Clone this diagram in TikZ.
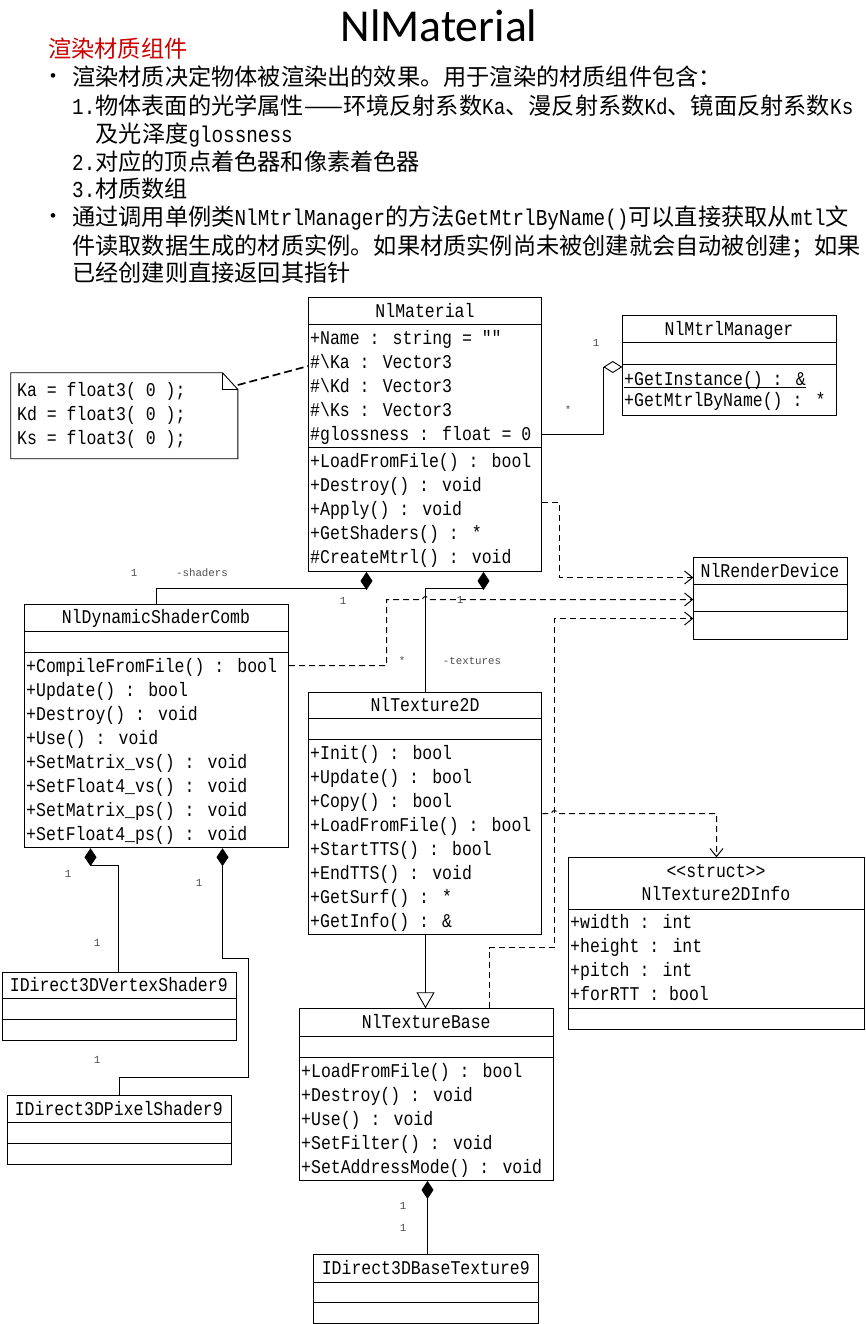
\documentclass[tikz,border=0pt]{standalone}
\usepackage{fontspec}
\setmainfont{Liberation Serif}
\newfontfamily\cjk{Noto Sans CJK SC}
\newfontfamily\mono{Liberation Mono}
\newfontfamily\titlef{Carlito}
\newfontfamily\bulf{Liberation Sans}
\usetikzlibrary{arrows.meta}
\definecolor{hred}{RGB}{204,0,0}
\newcommand\hw[1]{\scalebox{1}[1.18]{\mono\fontsize{19.3}{20}\selectfont #1}}
\newcommand\tall[1]{\scalebox{1}[1.18]{#1}}
\tikzset{
  lw/.style={line width=0.9pt},
  box/.style={draw, lw, inner sep=0pt, anchor=north west},
  mtxt/.style={font=\mono\fontsize{16.5}{18}\selectfont, inner sep=0pt, text height=12.8pt, text depth=0pt, anchor=west},
  ctxt/.style={font=\mono\fontsize{16.5}{18}\selectfont, inner sep=0pt, text height=12.8pt, text depth=0pt, anchor=center},
  ltxt/.style={font=\mono\fontsize{10.8}{12}\selectfont, text=black!70, inner sep=0pt, anchor=center},
  btxt/.style={font=\cjk\fontsize{23.2}{26}\selectfont, inner sep=0pt, text height=17.6pt, text depth=0pt, anchor=west},
  bul/.style={font=\bulf\fontsize{17}{20}\selectfont, inner sep=0pt, anchor=center},
  dsh/.style={line width=1pt, dash pattern=on 6pt off 4pt},
  notedsh/.style={line width=1.7pt, dash pattern=on 8pt off 4pt},
  dep/.style={dsh, -{Straight Barb[length=8pt,width=13pt]}},
  comp/.style={lw, {Diamond[length=18pt,width=12pt]}-},
  aggr/.style={lw, {Diamond[open,length=19pt,width=12pt]}-},
  gen/.style={lw, -{Triangle[open,length=16pt,width=18pt]}}
}
% name, x1, y1, x2, y2, sep1, sep2
\newcommand\umlclass[7]{%
  \node[box, minimum width={#4pt-#2pt}, minimum height={#5pt-#3pt}] (#1) at (#2,#3) {};
  \draw[lw] (#2,#6) -- (#4,#6);
  \draw[lw] (#2,#7) -- (#4,#7);
}
% row text: name, x, y, text
\newcommand\mrow[4]{\node[mtxt] (#1) at (#2,#3) {\tall{#4}};}
\newcommand\crow[4]{\node[ctxt] (#1) at (#2,#3) {\tall{#4}};}
\begin{document}
\begin{tikzpicture}[x=1pt,y=-1pt]
\useasboundingbox (0,0) rectangle (866,1324);

% ---------- header text ----------
\node[font=\titlef\fontsize{45.7}{48}\selectfont, inner sep=0pt, anchor=base] (ttl) at (439,42) {NlMaterial};
\node[btxt, text=hred] (h) at (48,49) {渲染材质组件};
\node[bul] (b1) at (53,78) {•};
\node[bul] (b2) at (53,218) {•};
\node[btxt] (t1) at (72,77) {渲染材质决定物体被渲染出的效果。用于渲染的材质组件包含：};
\node[btxt] (t2) at (72,106) {\hw{1.}物体表面的光学属性——环境反射系数\hw{Ka}、漫反射系数\hw{Kd}、镜面反射系数\hw{Ks}};
\node[btxt] (t3) at (95.5,134) {及光泽度\hw{glossness}};
\node[btxt] (t4) at (72,162) {\hw{2.}对应的顶点着色器和像素着色器};
\node[btxt] (t5) at (72,189) {\hw{3.}材质数组};
\node[btxt] (t6) at (72,217) {通过调用单例类\hw{NlMtrlManager}的方法\hw{GetMtrlByName()}可以直接获取从\hw{mtl}文};
\node[btxt] (t7) at (72,246) {件读取数据生成的材质实例。如果材质实例尚未被创建就会自动被创建；如果};
\node[btxt] (t8) at (72,273) {已经创建则直接返回其指针};

% ---------- NlMaterial ----------
\umlclass{mat}{308.4}{297.3}{541.4}{571}{324}{447.3}
\crow{matT}{425}{311}{NlMaterial}
\mrow{ma1}{310}{337.7}{+Name : string = ""}
\mrow{ma2}{310}{361.7}{\#\textbackslash Ka : Vector3}
\mrow{ma3}{310}{385.7}{\#\textbackslash Kd : Vector3}
\mrow{ma4}{310}{409.7}{\#\textbackslash Ks : Vector3}
\mrow{ma5}{310}{433.7}{\#glossness : float = 0}
\mrow{mm1}{310}{461}{+LoadFromFile() : bool}
\mrow{mm2}{310}{485}{+Destroy() : void}
\mrow{mm3}{310}{509}{+Apply() : void}
\mrow{mm4}{310}{533}{+GetShaders() : *}
\mrow{mm5}{310}{557}{\#CreateMtrl() : void}

% ---------- note ----------
\node[inner sep=0pt, minimum width=226.7pt, minimum height=85.6pt, anchor=north west] (note) at (10.7,372.7) {};
\draw[lw] (note.north west) -- (222.4,0 |- note.north) -- (note.east |- 0,389.3) -- (note.south east) -- (note.south west) -- cycle;
\draw[lw] (222.4,0 |- note.north) -- (222.4,389.3) -- (note.east |- 0,389.3);
\mrow{n1}{17}{390}{Ka = float3( 0 );}
\mrow{n2}{17}{414}{Kd = float3( 0 );}
\mrow{n3}{17}{438}{Ks = float3( 0 );}
\draw[notedsh] (note.east |- 0,385) -- (mat.west |- 0,366);

% ---------- NlMtrlManager ----------
\umlclass{mgr}{622.3}{315}{835.7}{415.3}{342.3}{364.3}
\crow{mgrT}{729}{329}{NlMtrlManager}
\mrow{g1}{624}{378.7}{+GetInstance() : \&}
\draw[line width=0.8pt] ([yshift=-1.8pt]g1.south west) -- ([yshift=-1.8pt]g1.south east);
\mrow{g2}{624}{400}{+GetMtrlByName() : *}

% ---------- NlRenderDevice ----------
\umlclass{rdev}{693.3}{556.7}{846.7}{639.3}{584.3}{611.7}
\crow{rdevT}{770}{571}{NlRenderDevice}

% ---------- NlDynamicShaderComb ----------
\umlclass{dsc}{24.3}{604.3}{288.1}{847.3}{631}{652.3}
\crow{dscT}{156}{617.5}{NlDynamicShaderComb}
\mrow{d1}{26}{666}{+CompileFromFile() : bool}
\mrow{d2}{26}{690}{+Update() : bool}
\mrow{d3}{26}{714}{+Destroy() : void}
\mrow{d4}{26}{738}{+Use() : void}
\mrow{d5}{26}{762}{+SetMatrix\_vs() : void}
\mrow{d6}{26}{786}{+SetFloat4\_vs() : void}
\mrow{d7}{26}{810}{+SetMatrix\_ps() : void}
\mrow{d8}{26}{834}{+SetFloat4\_ps() : void}

% ---------- NlTexture2D ----------
\umlclass{tex}{308.4}{691.7}{541.4}{934.3}{718.3}{739.3}
\crow{texT}{425}{705}{NlTexture2D}
\mrow{x1}{310}{752.7}{+Init() : bool}
\mrow{x2}{310}{776.7}{+Update() : bool}
\mrow{x3}{310}{800.7}{+Copy() : bool}
\mrow{x4}{310}{824.7}{+LoadFromFile() : bool}
\mrow{x5}{310}{848.7}{+StartTTS() : bool}
\mrow{x6}{310}{872.7}{+EndTTS() : void}
\mrow{x7}{310}{896.7}{+GetSurf() : *}
\mrow{x8}{310}{920.7}{+GetInfo() : \&}

% ---------- NlTexture2DInfo ----------
\umlclass{info}{568.2}{857.3}{864.4}{1029}{909.3}{1008.3}
\crow{infoS}{716}{871}{\textless\textless struct\textgreater\textgreater}
\crow{infoT}{716}{894.5}{NlTexture2DInfo}
\mrow{i1}{570}{922.3}{+width : int}
\mrow{i2}{570}{946.3}{+height : int}
\mrow{i3}{570}{970.3}{+pitch : int}
\mrow{i4}{570}{994.3}{+forRTT : bool}

% ---------- NlTextureBase ----------
\umlclass{tbase}{299.3}{1008.3}{553.3}{1180}{1036}{1057.7}
\crow{tbaseT}{426.3}{1022.3}{NlTextureBase}
\mrow{tb1}{301}{1071}{+LoadFromFile() : bool}
\mrow{tb2}{301}{1095}{+Destroy() : void}
\mrow{tb3}{301}{1119}{+Use() : void}
\mrow{tb4}{301}{1143}{+SetFilter() : void}
\mrow{tb5}{301}{1167}{+SetAddressMode() : void}

% ---------- D3D classes ----------
\umlclass{btex}{313.3}{1254.3}{538.3}{1323.3}{1282}{1302.3}
\crow{btexT}{425.8}{1268.3}{IDirect3DBaseTexture9}
\umlclass{vs}{1.7}{971.7}{236}{1040}{998.3}{1019.3}
\crow{vsT}{118.8}{985}{IDirect3DVertexShader9}
\umlclass{ps}{6.7}{1095}{231}{1164}{1122.7}{1143.3}
\crow{psT}{118.8}{1109.3}{IDirect3DPixelShader9}

% ---------- connectors ----------
\draw[aggr] (mgr.west |- 0,367) -- (603.5,367) -- (603.5,434.5) -- (mat.east |- 0,434.5);
\draw[comp] (366.5,0 |- mat.south) -- (366.5,588.5) -- (156.5,588.5) -- (156.5,0 |- dsc.north);
\draw[comp] (483.5,0 |- mat.south) -- (483.5,588.5) -- (425.5,588.5) -- (425.5,0 |- tex.north);
\draw[gen] (425.5,0 |- tex.south) -- (425.5,0 |- tbase.north);
\draw[comp] (90.5,0 |- dsc.south) -- (90.5,865.5) -- (118.5,865.5) -- (118.5,0 |- vs.north);
\draw[comp] (222.5,0 |- dsc.south) -- (222.5,958.5) -- (248.5,958.5) -- (248.5,1077.5) -- (119.5,1077.5) -- (119.5,0 |- ps.north);
\draw[comp] (427.5,0 |- tbase.south) -- (427.5,0 |- btex.north);

\draw[dep] (mat.east |- 0,502.5) -- (559.5,502.5) -- (559.5,577.5) -- (rdev.west |- 0,577.5);
\draw[dep] (dsc.east |- 0,665.5) -- (386.5,665.5) -- (386.5,599.5) -- (422.5,599.5) arc[start angle=180,end angle=360,radius=3] -- (rdev.west |- 0,599.5);
\draw[dep] (489.5,0 |- tbase.north) -- (489.5,947.5) -- (554.5,947.5) -- (554.5,618.5) -- (rdev.west |- 0,618.5);
\draw[dep] (tex.east |- 0,813.5) -- (551.5,813.5) arc[start angle=180,end angle=360,radius=3] -- (716.5,813.5) -- (716.5,0 |- info.north);

% ---------- multiplicities / roles ----------
\node[ltxt] (l1) at (134,573) {1};
\node[ltxt] (l2) at (202,573) {-shaders};
\node[ltxt] (l3) at (343,601) {1};
\node[ltxt] (l4) at (460,600) {1};
\node[ltxt] (l5) at (402,661) {*};
\node[ltxt] (l6) at (472,661) {-textures};
\node[ltxt] (l7) at (68,874) {1};
\node[ltxt] (l8) at (97,943) {1};
\node[ltxt] (l9) at (199,883) {1};
\node[ltxt] (l10) at (97,1060) {1};
\node[ltxt] (l11) at (403,1206) {1};
\node[ltxt] (l12) at (403,1228) {1};
\node[ltxt] (l13) at (596,343) {1};
\node[ltxt] (l14) at (568,410) {*};
\end{tikzpicture}
\end{document}
